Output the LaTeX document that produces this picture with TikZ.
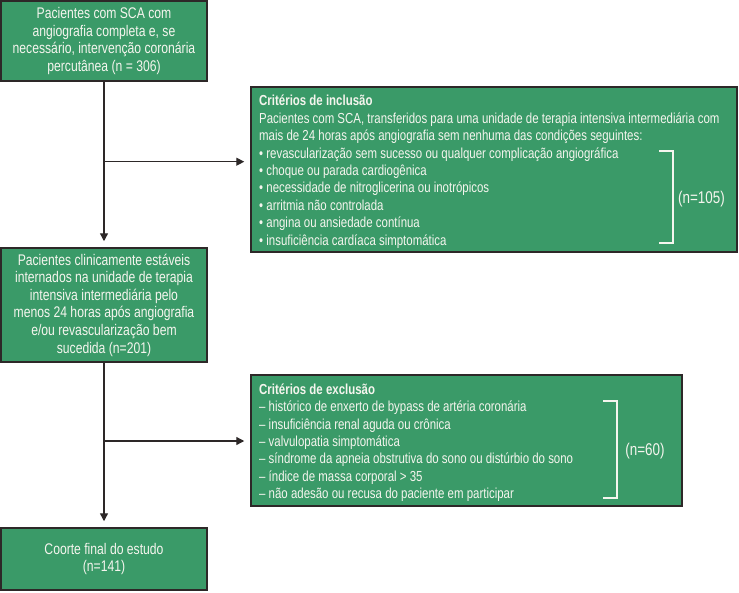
\documentclass[tikz,border=0pt]{standalone}
\usepackage{fontspec}
\setmainfont[FakeStretch=0.79]{Liberation Sans}
\usetikzlibrary{arrows.meta}
\definecolor{boxgreen}{RGB}{58,154,104}
\definecolor{edgec}{RGB}{45,40,40}
\definecolor{txtc}{RGB}{245,245,238}
\begin{document}
\begin{tikzpicture}[x=1pt,y=-1pt,
  box/.style={draw=edgec, line width=1.5pt, fill=boxgreen, text=txtc, inner sep=0pt, align=center, font=\fontsize{15.4}{17.6}\selectfont},
  flow/.style={draw=edgec, line width=1.3pt},
  arr/.style={flow, -{Triangle[width=8pt,length=8pt]}, shorten >=6pt},
  brk/.style={draw=txtc, line width=2.5pt},
  body/.style={text=txtc, font=\fontsize{14.5}{17.4}\selectfont, inner sep=0pt},
  count/.style={text=txtc, font=\fontsize{17}{20}\selectfont, inner sep=0pt}
]
\useasboundingbox (0,0) rectangle (739,592);
\node[box, minimum width=206pt, minimum height=80pt] (b1) at (104,41) {Pacientes com SCA com\\angiografia completa e, se\\necessário, intervenção coronária\\percutânea (n = 306)};
\node[box, minimum width=206pt, minimum height=114pt] (b2) at (104,305) {Pacientes clinicamente estáveis\\internados na unidade de terapia\\intensiva intermediária pelo\\menos 24 horas após angiografia\\e/ou revascularização bem\\sucedida (n=201)};
\node[box, minimum width=206pt, minimum height=62pt] (b3) at (104,559) {Coorte final do estudo\\(n=141)};
\node[box, minimum width=486pt, minimum height=165pt] (incl) at (494,169.5) {};
\node[box, minimum width=431pt, minimum height=131pt] (excl) at (466.5,440.5) {};
\node[body, align=left, anchor=north west] (inclt) at (259,95) {\textbf{Critérios de inclusão}\\Pacientes com SCA, transferidos para uma unidade de terapia intensiva intermediária com\\mais de 24 horas após angiografia sem nenhuma das condições seguintes:\\• revascularização sem sucesso ou qualquer complicação angiográfica\\• choque ou parada cardiogênica\\• necessidade de nitroglicerina ou inotrópicos\\• arritmia não controlada\\• angina ou ansiedade contínua\\• insuficiência cardíaca simptomática};
\node[body, align=left, anchor=north west] (exclt) at (259,383.5) {\textbf{Critérios de exclusão}\\– histórico de enxerto de bypass de artéria coronária\\– insuficiência renal aguda ou crônica\\– valvulopatia simptomática\\– síndrome da apneia obstrutiva do sono ou distúrbio do sono\\– índice de massa corporal > 35\\– não adesão ou recusa do paciente em participar};
\draw[brk] (659,151) -- (673,151) -- (673,243) -- (659,243);
\draw[brk] (603,401) -- (617,401) -- (617,498) -- (603,498);
\node[count] (n1) at (701.5,199) {(n=105)};
\node[count] (n2) at (645,451) {(n=60)};
\coordinate (j1) at (104,161.7);
\coordinate (j2) at (104,441);
\draw[arr] (b1.south) -- (b2.north);
\draw[arr] (b2.south) -- (b3.north);
\draw[arr] (j1) -- (j1 -| incl.west);
\draw[arr] (j2) -- (j2 -| excl.west);
\end{tikzpicture}
\end{document}
